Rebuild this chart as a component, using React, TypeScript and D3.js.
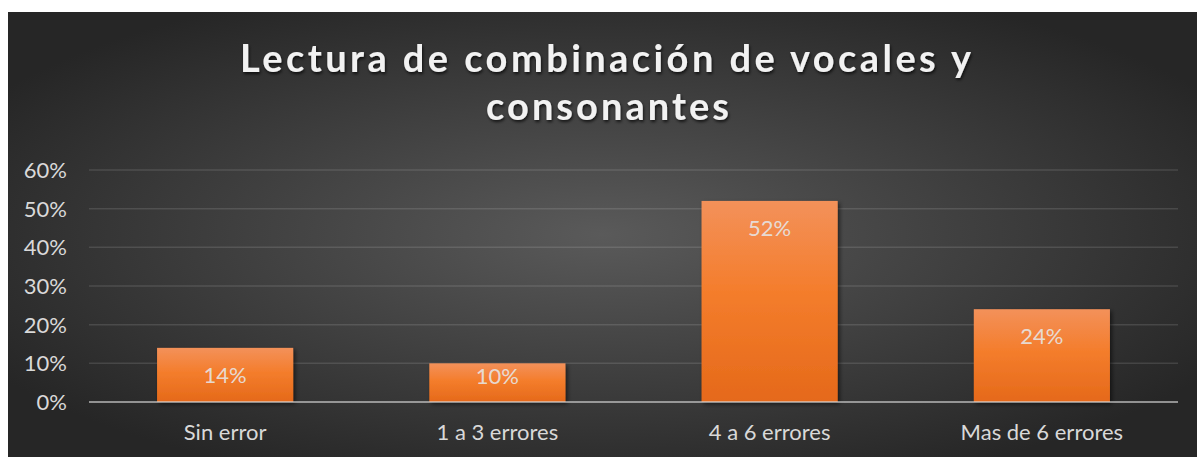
import React from "react";
import { scaleBand, scaleLinear, range } from "d3";

// Chart values
const categories = ["Sin error", "1 a 3 errores", "4 a 6 errores", "Mas de 6 errores"];
const values = [0.14, 0.1, 0.52, 0.24];
const yTicks = [0, 0.1, 0.2, 0.3, 0.4, 0.5, 0.6];
const titleLines = ["Lectura de combinación de vocales y", "consonantes"];

const W = 1197,
  H = 457,
  bg = { x: 8, y: 12 },
  plot = { left: 89, right: 1178, top: 170, bottom: 402 },
  font = "Lato, 'Open Sans', sans-serif",
  textColor = "#d9d9d9";

const pct = (v: number) => `${Math.round(v * 100)}%`;

export default function App() {
  const x = scaleBand<string>()
    .domain(categories)
    .range([plot.left, plot.right])
    .paddingInner(0.5)
    .paddingOuter(0.25);

  const y = scaleLinear().domain([0, 0.6]).range([plot.bottom, plot.top]);

  return (
    <svg
      width={W}
      height={H}
      style={{ position: "absolute", left: 0, top: 0, display: "block" }}
    >
      <defs>
        <radialGradient id="bgGrad" cx="50%" cy="50%" r="60%" fx="50%" fy="50%">
          <stop offset="0%" stopColor="#5a5a5a" />
          <stop offset="100%" stopColor="#262626" />
        </radialGradient>
        <linearGradient id="barGrad" x1="0" y1="0" x2="0" y2="1">
          <stop offset="0%" stopColor="#f3915a" />
          <stop offset="45%" stopColor="#f47d2c" />
          <stop offset="100%" stopColor="#e5691a" />
        </linearGradient>
        <filter id="barShadow" x="-10%" y="-10%" width="130%" height="130%">
          <feDropShadow dx="2" dy="2" stdDeviation="2" floodColor="#000" floodOpacity="0.55" />
        </filter>
        <filter id="titleShadow" x="-5%" y="-20%" width="110%" height="150%">
          <feDropShadow dx="1" dy="2" stdDeviation="1.5" floodColor="#000" floodOpacity="0.7" />
        </filter>
      </defs>

      <rect x={bg.x} y={bg.y} width={W - bg.x} height={H - bg.y} fill="url(#bgGrad)" />

      {/* title */}
      <g filter="url(#titleShadow)" fill="#f2f2f2" fontFamily={font} fontWeight={700} fontSize={38}>
        <text x={605.5} y={72} textAnchor="middle" textLength={731} lengthAdjust="spacing">
          {titleLines[0]}
        </text>
        <text x={607.5} y={120} textAnchor="middle" textLength={243} lengthAdjust="spacing">
          {titleLines[1]}
        </text>
      </g>

      {/* gridlines */}
      {yTicks.slice(1).map((t) => (
        <line
          key={t}
          x1={plot.left}
          x2={plot.right}
          y1={y(t)}
          y2={y(t)}
          stroke="#ffffff"
          strokeOpacity={0.12}
          strokeWidth={1.5}
        />
      ))}

      {/* y tick labels */}
      {yTicks.map((t) => (
        <text
          key={t}
          x={67}
          y={y(t)}
          dy="0.36em"
          textAnchor="end"
          fill={textColor}
          fontFamily={font}
          fontSize={22}
        >
          {pct(t)}
        </text>
      ))}

      {/* bars */}
      {range(categories.length).map((i) => (
        <rect
          key={categories[i]}
          x={x(categories[i])}
          y={y(values[i])}
          width={x.bandwidth()}
          height={y(0) - y(values[i])}
          fill="url(#barGrad)"
          filter="url(#barShadow)"
        />
      ))}

      {/* axis line */}
      <line
        x1={plot.left}
        x2={plot.right}
        y1={y(0)}
        y2={y(0)}
        stroke="#d9d9d9"
        strokeOpacity={0.6}
        strokeWidth={2}
      />

      {/* data labels */}
      {range(categories.length).map((i) => (
        <text
          key={categories[i]}
          x={(x(categories[i]) ?? 0) + x.bandwidth() / 2}
          y={Math.min(y(values[i]) + 35, y(0) - 18)}
          textAnchor="middle"
          fill="#e6e6e6"
          fillOpacity={0.9}
          fontFamily={font}
          fontSize={22}
        >
          {pct(values[i])}
        </text>
      ))}

      {/* category labels */}
      {categories.map((c) => (
        <text
          key={c}
          x={(x(c) ?? 0) + x.bandwidth() / 2}
          y={440}
          textAnchor="middle"
          fill={textColor}
          fontFamily={font}
          fontSize={22}
        >
          {c}
        </text>
      ))}
    </svg>
  );
}
